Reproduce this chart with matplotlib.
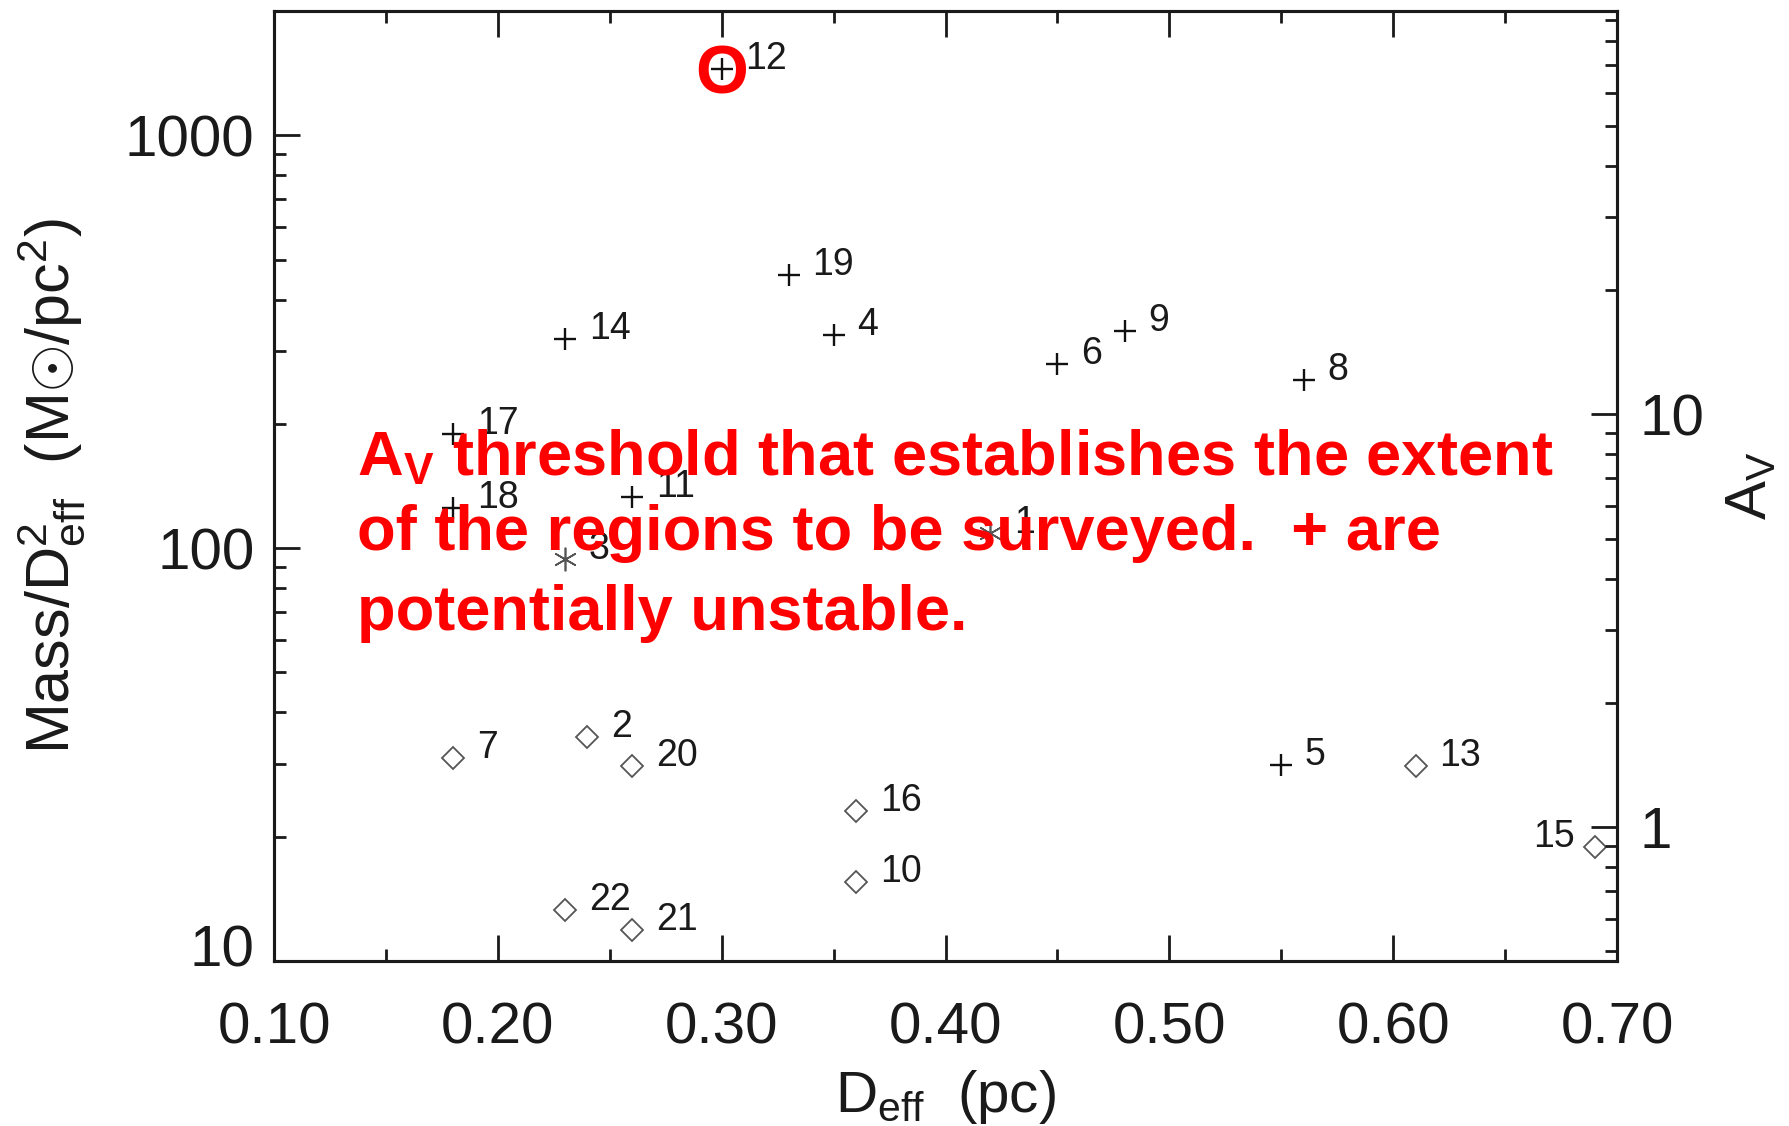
import matplotlib
matplotlib.use("Agg")
import matplotlib.pyplot as plt
from matplotlib.transforms import ScaledTranslation
from matplotlib.ticker import FixedLocator, FixedFormatter, LogLocator, NullFormatter, MultipleLocator

plt.rcParams['font.family'] = ['Liberation Sans', 'DejaVu Sans']
plt.rcParams['mathtext.fontset'] = 'custom'
plt.rcParams['mathtext.rm'] = 'Liberation Sans'
plt.rcParams['mathtext.it'] = 'Liberation Sans:italic'
plt.rcParams['mathtext.bf'] = 'Liberation Sans:bold'

# Potentially unstable cores (+)
plus_ids = [12, 19, 14, 4, 6, 9, 8, 17, 18, 11, 5]
plus_deff = [0.30, 0.33, 0.23, 0.35, 0.45, 0.48, 0.56, 0.18, 0.18, 0.26, 0.55]
plus_sigma = [1450, 460, 322, 329, 279, 335, 256, 189, 125, 133, 29.8]

# Cores marked with asterisks
star_ids = [3, 1]
star_deff = [0.23, 0.42]
star_sigma = [94.4, 108.6]

# Remaining cores (diamonds)
dia_ids = [7, 2, 20, 16, 10, 22, 21, 13, 15]
dia_deff = [0.18, 0.24, 0.26, 0.36, 0.36, 0.23, 0.26, 0.61, 0.69]
dia_sigma = [31.0, 34.8, 29.6, 23.1, 15.5, 13.3, 11.9, 29.6, 18.9]

# Labels drawn to the left of their marker
left_labels = [15]

# Mass surface density (Msun/pc^2) per magnitude of visual extinction
AV_FACTOR = 21.1

x_ticks = [0.10, 0.20, 0.30, 0.40, 0.50, 0.60, 0.70]
x_tick_labels = ['0.10', '0.20', '0.30', '0.40', '0.50', '0.60', '0.70']
y_ticks = [10, 100, 1000]
y_tick_labels = ['10', '100', '1000']
av_ticks = [1, 10]
av_tick_labels = ['1', '10']

note_lines = [r'A$_{\mathbf{V}}$ threshold that establishes the extent',
              'of the regions to be surveyed.  + are',
              'potentially unstable.']

INK = '#1a1a1a'
fig = plt.figure(figsize=(17.9, 11.26), dpi=100)
ax = fig.add_axes([0.1531, 0.1465, 0.9034 - 0.1531, 0.9902 - 0.1465])

ax.plot(plus_deff, plus_sigma, ls='none', marker='+', ms=16, mew=1.7,
        color='#111111', zorder=3)
ax.plot(star_deff, star_sigma, ls='none', marker=(6, 2, 0), ms=17, mew=1.2,
        color='#555555', zorder=3)
ax.plot(dia_deff, dia_sigma, ls='none', marker='D', ms=11.5, mew=1.3,
        mfc='none', mec='#555555', zorder=3)

for ids, xs, ys in [(plus_ids, plus_deff, plus_sigma),
                    (star_ids, star_deff, star_sigma),
                    (dia_ids, dia_deff, dia_sigma)]:
    for cid, xv, yv in zip(ids, xs, ys):
        if cid in left_labels:
            ax.annotate(str(cid), (xv, yv), xytext=(-14, 0),
                        textcoords='offset points', ha='right', va='baseline',
                        fontsize=27, color=INK, zorder=4)
        else:
            ax.annotate(str(cid), (xv, yv), xytext=(17, 0),
                        textcoords='offset points', ha='left', va='baseline',
                        fontsize=27, color=INK, zorder=4)

ax.set_xlim(0.10, 0.70)
ax.set_yscale('log')
ax.set_ylim(10, 2000)

ax.xaxis.set_major_locator(FixedLocator(x_ticks))
ax.xaxis.set_major_formatter(FixedFormatter(x_tick_labels))
ax.xaxis.set_minor_locator(MultipleLocator(0.05))
ax.yaxis.set_major_locator(FixedLocator(y_ticks))
ax.yaxis.set_major_formatter(FixedFormatter(y_tick_labels))
ax.yaxis.set_minor_locator(LogLocator(base=10, subs=range(2, 10)))
ax.yaxis.set_minor_formatter(NullFormatter())

ax.tick_params(axis='both', which='both', direction='in', width=2.0,
               color=INK, labelcolor=INK, labelsize=42)
ax.tick_params(axis='x', which='both', top=True, bottom=True, pad=29)
ax.tick_params(axis='y', which='both', left=True, right=False, pad=14)
ax.tick_params(which='major', length=19)
ax.tick_params(which='minor', length=8.5)

# The lowest y label sits a little above its tick
low_tick = ax.yaxis.get_major_ticks()[0]
low_tick.label1.set_transform(low_tick.label1.get_transform()
                              + ScaledTranslation(0, 11 / 72,
                                                  fig.dpi_scale_trans))

for sp in ax.spines.values():
    sp.set_linewidth(2.2)
    sp.set_color(INK)

ax.set_xlabel(r'D$_{\rm eff}$  (pc)', fontsize=42, color=INK, va='center')
ax.xaxis.set_label_coords(0.5, -0.143)
ax.set_ylabel(r'Mass/D$^2_{\rm eff}$  (M$\odot$/pc$^2$)', fontsize=44,
              color=INK, va='center')
ax.yaxis.set_label_coords(-0.166, 0.5)

# Visual extinction on the right-hand axis
ax2 = ax.twinx()
ax2.set_yscale('log')
ax2.set_ylim(10 / AV_FACTOR, 2000 / AV_FACTOR)
ax2.yaxis.set_major_locator(FixedLocator(av_ticks))
ax2.yaxis.set_major_formatter(FixedFormatter(av_tick_labels))
ax2.yaxis.set_minor_locator(LogLocator(base=10, subs=range(2, 10)))
ax2.yaxis.set_minor_formatter(NullFormatter())
ax2.tick_params(axis='y', which='both', direction='in', width=2.0,
                color=INK, labelcolor=INK, labelsize=42, pad=16,
                left=False, right=True)
ax2.tick_params(which='major', length=19)
ax2.tick_params(which='minor', length=8.5)
for sp in ax2.spines.values():
    sp.set_linewidth(2.2)
    sp.set_color(INK)
ax2.set_ylabel(r'A$_{\rm V}$', fontsize=42, color=INK, va='center',
               rotation=90)
ax2.yaxis.set_label_coords(1.0998, 0.5)

# Red annotation overlaid on the plot
for txt, yb in zip(note_lines, [0.5116, 0.4326, 0.3484]):
    ax2.text(0.0618, yb, txt, transform=ax2.transAxes, ha='left',
             va='baseline', fontsize=45.5, fontweight='bold', color='#ff0000',
             zorder=10)

# Highlight core 12
ax2.annotate('O', (plus_deff[0], plus_sigma[0]), xycoords=ax.transData,
             ha='center', va='center_baseline', fontsize=49,
             fontweight='bold', color='#ff0000', zorder=10)

fig.savefig('out.png', dpi=100)
